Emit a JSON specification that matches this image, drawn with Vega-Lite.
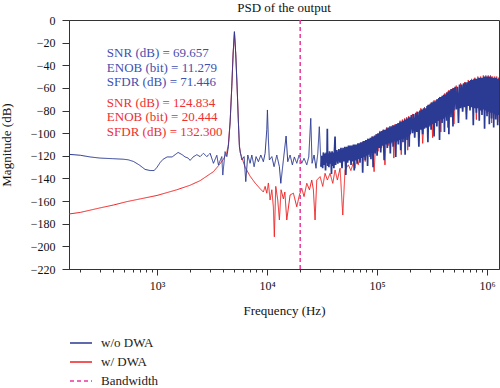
{
"$schema": "https://vega.github.io/schema/vega-lite/v6.json",
"width": 430, "height": 249,
"autosize": {"type": "none"},
"padding": {"left": 69, "top": 20, "right": 1, "bottom": 119},
"title": {"text": "PSD of the output", "font": "Liberation Serif", "fontSize": 13, "fontWeight": "normal", "color": "#111", "offset": 2, "dy": 13, "baseline": "alphabetic", "anchor": "middle"},
"config": {"view": {"stroke": "#333", "strokeWidth": 1}, "font": "Liberation Serif"},
"resolve": {"scale": {"x": "shared"}, "axis": {"x": "independent"}},
"datasets": {
"blue": [
{"f":158,"v":-118.7,"s":"b"},{"f":200,"v":-119.5,"s":"b"},{"f":246,"v":-121,"s":"b"},{"f":303,"v":-122,"s":"b"},{"f":390,"v":-122.5,"s":"b"},{"f":491,"v":-123,"s":"b"},{"f":545,"v":-123.5,"s":"b"},{"f":610,"v":-125,"s":"b"},{"f":686,"v":-128,"s":"b"},{"f":777,"v":-132,"s":"b"},{"f":863,"v":-133,"s":"b"},{"f":940,"v":-133,"s":"b"},{"f":1000,"v":-130,"s":"b"},{"f":1064,"v":-126,"s":"b"},{"f":1135,"v":-123,"s":"b"},{"f":1233,"v":-121,"s":"b"},{"f":1368,"v":-121,"s":"b"},{"f":1458,"v":-119,"s":"b"},{"f":1552,"v":-117,"s":"b"},{"f":1688,"v":-119,"s":"b"},{"f":1798,"v":-121,"s":"b"},{"f":1915,"v":-122,"s":"b"},{"f":1995,"v":-124,"s":"b"},{"f":2125,"v":-121,"s":"b"},{"f":2296,"v":-119,"s":"b"},{"f":2460,"v":-120.7,"s":"b"},{"f":2637,"v":-117.8,"s":"b"},{"f":2831,"v":-120.7,"s":"b"},{"f":3034,"v":-117.8,"s":"b"},{"f":3252,"v":-126.6,"s":"b"},{"f":3490,"v":-119.5,"s":"b"},{"f":3609,"v":-128,"s":"b"},{"f":3873,"v":-120.7,"s":"b"},{"f":3954,"v":-137,"s":"b"},{"f":4150,"v":-116.3,"s":"b"},{"f":4303,"v":-120.7,"s":"b"},{"f":4446,"v":-112,"s":"b"},{"f":4613,"v":-90,"s":"b"},{"f":4775,"v":-59,"s":"b"},{"f":4909,"v":-30,"s":"b"},{"f":5047,"v":-10.3,"s":"b"},{"f":5188,"v":-30,"s":"b"},{"f":5337,"v":-59,"s":"b"},{"f":5483,"v":-90,"s":"b"},{"f":5598,"v":-112,"s":"b"},{"f":5888,"v":-123.7,"s":"b"},{"f":6180,"v":-120.7,"s":"b"},{"f":6400,"v":-142.8,"s":"b"},{"f":6675,"v":-119.3,"s":"b"},{"f":7005,"v":-126.6,"s":"b"},{"f":7261,"v":-119.3,"s":"b"},{"f":7620,"v":-129.6,"s":"b"},{"f":7943,"v":-120.7,"s":"b"},{"f":8337,"v":-125.2,"s":"b"},{"f":8770,"v":-119.3,"s":"b"},{"f":9247,"v":-125.2,"s":"b"},{"f":9594,"v":-117.8,"s":"b"},{"f":9935,"v":-97,"s":"b"},{"f":10070,"v":-79.5,"s":"b"},{"f":10280,"v":-106,"s":"b"},{"f":10490,"v":-123.7,"s":"b"},{"f":11040,"v":-120.7,"s":"b"},{"f":11580,"v":-129.6,"s":"b"},{"f":12250,"v":-119.3,"s":"b"},{"f":12940,"v":-129.6,"s":"b"},{"f":13330,"v":-144.3,"s":"b"},{"f":14070,"v":-123.7,"s":"b"},{"f":14890,"v":-102.5,"s":"b"},{"f":15420,"v":-125.2,"s":"b"},{"f":16190,"v":-119.3,"s":"b"},{"f":16980,"v":-128,"s":"b"},{"f":17700,"v":-121,"s":"b"},{"f":18620,"v":-126.6,"s":"b"},{"f":19540,"v":-119.3,"s":"b"},{"f":20660,"v":-126.6,"s":"b"},{"f":21680,"v":-122.2,"s":"b"},{"f":22960,"v":-128,"s":"b"},{"f":23930,"v":-121,"s":"b"},{"f":24950,"v":-86.9,"s":"b"},{"f":25650,"v":-126.6,"s":"b"},{"f":26740,"v":-119.3,"s":"b"},{"f":27870,"v":-131,"s":"b"},{"f":28900,"v":-118,"s":"b"},{"f":29850,"v":-94.3,"s":"b"},{"f":30970,"v":-129.6,"s":"b"},
{"f":31500,"v":-120,"s":"b"},{"f":32000,"v":-131,"s":"b"},{"f":32500,"v":-117,"s":"b"},{"f":33000,"v":-128,"s":"b"},{"f":33500,"v":-118,"s":"b"},{"f":34000,"v":-133,"s":"b"},{"f":34500,"v":-117,"s":"b"},{"f":35000,"v":-126,"s":"b"},{"f":35300,"v":-96,"s":"b"},{"f":35600,"v":-129,"s":"b"},{"f":36000,"v":-118,"s":"b"},{"f":36500,"v":-130,"s":"b"},{"f":37000,"v":-116,"s":"b"},{"f":37500,"v":-127,"s":"b"},{"f":38000,"v":-117,"s":"b"},{"f":38500,"v":-136,"s":"b"},{"f":39000,"v":-116,"s":"b"},{"f":39500,"v":-129,"s":"b"},{"f":40000,"v":-117,"s":"b"},{"f":40500,"v":-131,"s":"b"},{"f":41000,"v":-115,"s":"b"},{"f":41500,"v":-103,"s":"b"},{"f":42000,"v":-128,"s":"b"},
{"f":43000,"v":-115,"s":"b"},{"f":44000,"v":-127,"s":"b"},{"f":45000,"v":-114,"s":"b"},{"f":46000,"v":-126,"s":"b"},{"f":47000,"v":-113,"s":"b"},{"f":48000,"v":-131,"s":"b"},{"f":49000,"v":-113,"s":"b"},{"f":50000,"v":-125,"s":"b"},{"f":51000,"v":-112,"s":"b"},{"f":52000,"v":-137,"s":"b"},{"f":53000,"v":-112,"s":"b"},{"f":54000,"v":-126,"s":"b"},{"f":55000,"v":-111,"s":"b"},{"f":56000,"v":-124,"s":"b"},{"f":57000,"v":-111,"s":"b"},{"f":58000,"v":-128,"s":"b"},{"f":59000,"v":-111,"s":"b"},{"f":60000,"v":-125,"s":"b"},{"f":61000,"v":-110,"s":"b"},{"f":62000,"v":-133,"s":"b"},{"f":63000,"v":-110,"s":"b"},{"f":64000,"v":-124,"s":"b"},{"f":65000,"v":-110,"s":"b"},{"f":66000,"v":-127,"s":"b"},{"f":67000,"v":-109,"s":"b"},{"f":68000,"v":-123,"s":"b"},{"f":69000,"v":-109,"s":"b"},{"f":70000,"v":-126,"s":"b"},{"f":71000,"v":-108,"s":"b"},{"f":72000,"v":-122,"s":"b"},{"f":73000,"v":-108,"s":"b"},{"f":74000,"v":-135,"s":"b"},{"f":75000,"v":-107,"s":"b"},{"f":76000,"v":-121,"s":"b"},{"f":77000,"v":-107,"s":"b"},{"f":78000,"v":-124,"s":"b"},{"f":79000,"v":-106,"s":"b"},{"f":80000,"v":-120,"s":"b"},{"f":81000,"v":-106,"s":"b"},{"f":82000,"v":-129,"s":"b"},{"f":83000,"v":-105,"s":"b"},{"f":84000,"v":-119,"s":"b"},{"f":85000,"v":-105,"s":"b"},{"f":86000,"v":-118,"s":"b"},{"f":87000,"v":-104,"s":"b"},{"f":88000,"v":-123,"s":"b"},{"f":89000,"v":-104,"s":"b"},{"f":90000,"v":-117,"s":"b"},{"f":91000,"v":-103,"s":"b"},{"f":92000,"v":-130,"s":"b"},{"f":93000,"v":-103,"s":"b"},{"f":94000,"v":-116,"s":"b"},{"f":95000,"v":-102,"s":"b"},{"f":96000,"v":-118,"s":"b"},{"f":97000,"v":-102,"s":"b"},{"f":98000,"v":-115,"s":"b"},{"f":99000,"v":-101,"s":"b"},{"f":100000,"v":-120,"s":"b"},
{"f":102000,"v":-100,"s":"b"},{"f":104000,"v":-113,"s":"b"},{"f":106000,"v":-99,"s":"b"},{"f":108000,"v":-117,"s":"b"},{"f":110000,"v":-98,"s":"b"},{"f":112000,"v":-111,"s":"b"},{"f":114000,"v":-97,"s":"b"},{"f":116000,"v":-124,"s":"b"},{"f":118000,"v":-97,"s":"b"},{"f":120000,"v":-110,"s":"b"},{"f":122000,"v":-96,"s":"b"},{"f":124000,"v":-113,"s":"b"},{"f":126000,"v":-95,"s":"b"},{"f":128000,"v":-109,"s":"b"},{"f":130000,"v":-95,"s":"b"},{"f":132000,"v":-118,"s":"b"},{"f":134000,"v":-94,"s":"b"},{"f":136000,"v":-108,"s":"b"},{"f":138000,"v":-94,"s":"b"},{"f":140000,"v":-112,"s":"b"},{"f":142000,"v":-93,"s":"b"},{"f":144000,"v":-107,"s":"b"},{"f":146000,"v":-93,"s":"b"},{"f":148000,"v":-121,"s":"b"},{"f":150000,"v":-92,"s":"b"},{"f":152000,"v":-107,"s":"b"},{"f":154000,"v":-92,"s":"b"},{"f":156000,"v":-110,"s":"b"},{"f":158000,"v":-91,"s":"b"},{"f":160000,"v":-106,"s":"b"},{"f":162000,"v":-90,"s":"b"},{"f":164000,"v":-115,"s":"b"},{"f":166000,"v":-90,"s":"b"},{"f":168000,"v":-105,"s":"b"},{"f":170000,"v":-89,"s":"b"},{"f":172000,"v":-108,"s":"b"},{"f":174000,"v":-89,"s":"b"},{"f":176000,"v":-104,"s":"b"},{"f":178000,"v":-88,"s":"b"},{"f":180000,"v":-119,"s":"b"},{"f":182000,"v":-88,"s":"b"},{"f":184000,"v":-103,"s":"b"},{"f":186000,"v":-87,"s":"b"},{"f":188000,"v":-106,"s":"b"},{"f":190000,"v":-87,"s":"b"},{"f":192000,"v":-102,"s":"b"},{"f":194000,"v":-86,"s":"b"},{"f":196000,"v":-112,"s":"b"},{"f":198000,"v":-86,"s":"b"},{"f":200000,"v":-101,"s":"b"},
{"f":205000,"v":-84,"s":"b"},{"f":210000,"v":-100,"s":"b"},{"f":215000,"v":-83,"s":"b"},{"f":220000,"v":-104,"s":"b"},{"f":225000,"v":-82,"s":"b"},{"f":230000,"v":-99,"s":"b"},{"f":235000,"v":-81,"s":"b"},{"f":240000,"v":-112,"s":"b"},{"f":245000,"v":-80,"s":"b"},{"f":250000,"v":-97,"s":"b"},{"f":255000,"v":-79,"s":"b"},{"f":260000,"v":-101,"s":"b"},{"f":265000,"v":-78,"s":"b"},{"f":270000,"v":-96,"s":"b"},{"f":275000,"v":-78,"s":"b"},{"f":280000,"v":-95,"s":"b"},{"f":285000,"v":-76,"s":"b"},{"f":290000,"v":-108,"s":"b"},{"f":295000,"v":-75,"s":"b"},{"f":300000,"v":-93,"s":"b"},{"f":305000,"v":-74,"s":"b"},{"f":310000,"v":-97,"s":"b"},{"f":315000,"v":-73,"s":"b"},{"f":320000,"v":-92,"s":"b"},{"f":325000,"v":-72,"s":"b"},{"f":330000,"v":-103,"s":"b"},{"f":335000,"v":-72,"s":"b"},{"f":340000,"v":-91,"s":"b"},{"f":345000,"v":-71,"s":"b"},{"f":350000,"v":-94,"s":"b"},{"f":355000,"v":-70,"s":"b"},{"f":360000,"v":-89,"s":"b"},{"f":365000,"v":-69,"s":"b"},{"f":370000,"v":-106,"s":"b"},{"f":375000,"v":-68,"s":"b"},{"f":380000,"v":-88,"s":"b"},{"f":385000,"v":-68,"s":"b"},{"f":390000,"v":-91,"s":"b"},{"f":395000,"v":-67,"s":"b"},{"f":400000,"v":-87,"s":"b"},{"f":405000,"v":-66,"s":"b"},{"f":410000,"v":-99,"s":"b"},{"f":415000,"v":-66,"s":"b"},{"f":420000,"v":-85,"s":"b"},{"f":425000,"v":-65,"s":"b"},{"f":430000,"v":-89,"s":"b"},{"f":435000,"v":-64,"s":"b"},{"f":440000,"v":-84,"s":"b"},{"f":445000,"v":-63,"s":"b"},{"f":450000,"v":-101,"s":"b"},{"f":455000,"v":-63,"s":"b"},{"f":460000,"v":-82,"s":"b"},{"f":465000,"v":-62,"s":"b"},{"f":470000,"v":-86,"s":"b"},{"f":475000,"v":-61,"s":"b"},{"f":480000,"v":-81,"s":"b"},{"f":485000,"v":-61,"s":"b"},{"f":490000,"v":-94,"s":"b"},{"f":495000,"v":-60,"s":"b"},{"f":500000,"v":-80,"s":"b"},
{"f":512500,"v":-59,"s":"b"},{"f":525000,"v":-79,"s":"b"},{"f":537500,"v":-59,"s":"b"},{"f":550000,"v":-91,"s":"b"},{"f":562500,"v":-57,"s":"b"},{"f":575000,"v":-78,"s":"b"},{"f":587500,"v":-57,"s":"b"},{"f":600000,"v":-81,"s":"b"},{"f":612500,"v":-56,"s":"b"},{"f":625000,"v":-77,"s":"b"},{"f":637500,"v":-55,"s":"b"},{"f":650000,"v":-88,"s":"b"},{"f":662500,"v":-55,"s":"b"},{"f":675000,"v":-76,"s":"b"},{"f":687500,"v":-54,"s":"b"},{"f":700000,"v":-80,"s":"b"},{"f":712500,"v":-53,"s":"b"},{"f":725000,"v":-77,"s":"b"},{"f":737500,"v":-53,"s":"b"},{"f":750000,"v":-93,"s":"b"},{"f":762500,"v":-52,"s":"b"},{"f":775000,"v":-78,"s":"b"},{"f":787500,"v":-52,"s":"b"},{"f":800000,"v":-82,"s":"b"},{"f":812500,"v":-52,"s":"b"},{"f":825000,"v":-78,"s":"b"},{"f":837500,"v":-51,"s":"b"},{"f":850000,"v":-89,"s":"b"},{"f":862500,"v":-51,"s":"b"},{"f":875000,"v":-80,"s":"b"},{"f":887500,"v":-51,"s":"b"},{"f":900000,"v":-84,"s":"b"},{"f":912500,"v":-51,"s":"b"},{"f":925000,"v":-79,"s":"b"},{"f":937500,"v":-50,"s":"b"},{"f":950000,"v":-96,"s":"b"},{"f":962500,"v":-50,"s":"b"},{"f":975000,"v":-80,"s":"b"},{"f":987500,"v":-50,"s":"b"},{"f":1000000,"v":-85,"s":"b"},{"f":1012500,"v":-50,"s":"b"},{"f":1025000,"v":-81,"s":"b"},{"f":1037500,"v":-50,"s":"b"},{"f":1050000,"v":-92,"s":"b"},{"f":1062500,"v":-50,"s":"b"},{"f":1075000,"v":-82,"s":"b"},{"f":1087500,"v":-50,"s":"b"},{"f":1100000,"v":-87,"s":"b"},{"f":1112500,"v":-51,"s":"b"},{"f":1125000,"v":-82,"s":"b"},{"f":1137500,"v":-51,"s":"b"},{"f":1150000,"v":-95,"s":"b"},{"f":1162500,"v":-51,"s":"b"},{"f":1175000,"v":-83,"s":"b"},{"f":1187500,"v":-51,"s":"b"},{"f":1200000,"v":-88,"s":"b"},{"f":1212500,"v":-51,"s":"b"},{"f":1225000,"v":-84,"s":"b"},{"f":1237500,"v":-52,"s":"b"},{"f":1250000,"v":-93,"s":"b"},{"f":1262500,"v":-52,"s":"b"},{"f":1275000,"v":-84,"s":"b"},{"f":1285000,"v":-53,"s":"b"}
],
"red": [
{"f":158,"v":-171.4,"s":"r"},{"f":200,"v":-170,"s":"r"},{"f":303,"v":-166,"s":"r"},{"f":400,"v":-163.5,"s":"r"},{"f":529,"v":-160.5,"s":"r"},{"f":750,"v":-157.5,"s":"r"},{"f":1000,"v":-155,"s":"r"},{"f":1510,"v":-150,"s":"r"},{"f":1995,"v":-146,"s":"r"},{"f":2455,"v":-142,"s":"r"},{"f":3252,"v":-134,"s":"r"},{"f":3741,"v":-127,"s":"r"},{"f":4009,"v":-123,"s":"r"},{"f":4303,"v":-117,"s":"r"},{"f":4446,"v":-110,"s":"r"},{"f":4613,"v":-90,"s":"r"},{"f":4775,"v":-59,"s":"r"},{"f":4909,"v":-30,"s":"r"},{"f":5047,"v":-10.5,"s":"r"},{"f":5188,"v":-30,"s":"r"},{"f":5337,"v":-59,"s":"r"},{"f":5483,"v":-90,"s":"r"},{"f":5598,"v":-110,"s":"r"},{"f":5689,"v":-117,"s":"r"},{"f":6310,"v":-130,"s":"r"},{"f":7005,"v":-138,"s":"r"},{"f":7780,"v":-144,"s":"r"},{"f":8630,"v":-149,"s":"r"},{"f":9247,"v":-152,"s":"r"},{"f":9594,"v":-147,"s":"r"},{"f":9935,"v":-153,"s":"r"},{"f":10280,"v":-144,"s":"r"},{"f":10650,"v":-159,"s":"r"},{"f":11040,"v":-150,"s":"r"},{"f":11400,"v":-165,"s":"r"},{"f":11640,"v":-191.5,"s":"r"},{"f":11990,"v":-147,"s":"r"},{"f":12500,"v":-159,"s":"r"},{"f":12940,"v":-176.7,"s":"r"},{"f":13400,"v":-150,"s":"r"},{"f":14070,"v":-158,"s":"r"},{"f":14500,"v":-152,"s":"r"},{"f":15100,"v":-176.7,"s":"r"},{"f":16190,"v":-154.6,"s":"r"},{"f":17340,"v":-153,"s":"r"},{"f":18620,"v":-165,"s":"r"},{"f":19680,"v":-154.6,"s":"r"},{"f":20660,"v":-148.7,"s":"r"},{"f":21680,"v":-156,"s":"r"},{"f":22960,"v":-144.3,"s":"r"},{"f":24270,"v":-150,"s":"r"},{"f":25470,"v":-141.4,"s":"r"},{"f":26360,"v":-150,"s":"r"},{"f":27310,"v":-176.7,"s":"r"},{"f":28300,"v":-141.4,"s":"r"},{"f":30340,"v":-138.4,"s":"r"},{"f":32070,"v":-147,"s":"r"},{"f":33650,"v":-135.5,"s":"r"},{"f":35320,"v":-141.4,"s":"r"},{"f":37380,"v":-135.5,"s":"r"},{"f":39550,"v":-144.3,"s":"r"},{"f":41500,"v":-132.5,"s":"r"},{"f":43550,"v":-141.4,"s":"r"},{"f":46100,"v":-131,"s":"r"},{"f":48770,"v":-172.3,"s":"r"},{"f":51160,"v":-132.5,"s":"r"},{"f":54830,"v":-128,"s":"r"},{"f":57800,"v":-133,"s":"r"},{"f":60930,"v":-126,"s":"r"},{"f":63000,"v":-131,"s":"r"},{"f":65370,"v":-122,"s":"r"},{"f":67500,"v":-128,"s":"r"},{"f":70000,"v":-119,"s":"r"},
{"f":74000,"v":-108,"s":"r"},{"f":78000,"v":-125,"s":"r"},{"f":82000,"v":-105,"s":"r"},{"f":86000,"v":-121,"s":"r"},{"f":90000,"v":-103,"s":"r"},{"f":94000,"v":-134,"s":"r"},{"f":98000,"v":-101,"s":"r"},{"f":102000,"v":-116,"s":"r"},{"f":106000,"v":-98,"s":"r"},{"f":110000,"v":-113,"s":"r"},{"f":114000,"v":-97,"s":"r"},{"f":118000,"v":-128,"s":"r"},{"f":122000,"v":-95,"s":"r"},{"f":126000,"v":-111,"s":"r"},{"f":130000,"v":-94,"s":"r"},{"f":134000,"v":-109,"s":"r"},{"f":138000,"v":-93,"s":"r"},{"f":142000,"v":-122,"s":"r"},{"f":146000,"v":-92,"s":"r"},{"f":150000,"v":-108,"s":"r"},{"f":154000,"v":-91,"s":"r"},{"f":158000,"v":-106,"s":"r"},{"f":162000,"v":-89,"s":"r"},{"f":166000,"v":-119,"s":"r"},{"f":170000,"v":-88,"s":"r"},{"f":174000,"v":-105,"s":"r"},{"f":178000,"v":-87,"s":"r"},{"f":182000,"v":-103,"s":"r"},{"f":186000,"v":-86,"s":"r"},{"f":190000,"v":-115,"s":"r"},{"f":194000,"v":-85,"s":"r"},{"f":198000,"v":-102,"s":"r"},{"f":210000,"v":-83,"s":"r"},{"f":220000,"v":-100,"s":"r"},{"f":230000,"v":-81,"s":"r"},{"f":240000,"v":-98,"s":"r"},{"f":250000,"v":-78,"s":"r"},{"f":260000,"v":-109,"s":"r"},{"f":270000,"v":-77,"s":"r"},{"f":280000,"v":-95,"s":"r"},{"f":290000,"v":-75,"s":"r"},{"f":300000,"v":-94,"s":"r"},{"f":310000,"v":-73,"s":"r"},{"f":320000,"v":-104,"s":"r"},{"f":330000,"v":-71,"s":"r"},{"f":340000,"v":-91,"s":"r"},{"f":350000,"v":-70,"s":"r"},{"f":360000,"v":-89,"s":"r"},{"f":370000,"v":-68,"s":"r"},{"f":380000,"v":-99,"s":"r"},{"f":390000,"v":-67,"s":"r"},{"f":400000,"v":-87,"s":"r"},{"f":410000,"v":-65,"s":"r"},{"f":420000,"v":-86,"s":"r"},{"f":430000,"v":-64,"s":"r"},{"f":440000,"v":-95,"s":"r"},{"f":450000,"v":-62,"s":"r"},{"f":460000,"v":-83,"s":"r"},{"f":470000,"v":-61,"s":"r"},{"f":480000,"v":-82,"s":"r"},{"f":490000,"v":-60,"s":"r"},{"f":500000,"v":-92,"s":"r"},{"f":525000,"v":-58,"s":"r"},{"f":550000,"v":-79,"s":"r"},{"f":575000,"v":-56,"s":"r"},{"f":600000,"v":-80,"s":"r"},{"f":625000,"v":-55,"s":"r"},{"f":650000,"v":-84,"s":"r"},{"f":675000,"v":-53,"s":"r"},{"f":700000,"v":-78,"s":"r"},{"f":725000,"v":-52,"s":"r"},{"f":750000,"v":-79,"s":"r"},{"f":775000,"v":-51,"s":"r"},{"f":800000,"v":-88,"s":"r"},{"f":825000,"v":-50,"s":"r"},{"f":850000,"v":-80,"s":"r"},{"f":875000,"v":-50,"s":"r"},{"f":900000,"v":-81,"s":"r"},{"f":925000,"v":-49,"s":"r"},{"f":950000,"v":-87,"s":"r"},{"f":975000,"v":-49,"s":"r"},{"f":1000000,"v":-82,"s":"r"},{"f":1025000,"v":-49,"s":"r"},{"f":1050000,"v":-83,"s":"r"},{"f":1075000,"v":-49,"s":"r"},{"f":1100000,"v":-91,"s":"r"},{"f":1125000,"v":-50,"s":"r"},{"f":1150000,"v":-84,"s":"r"},{"f":1175000,"v":-50,"s":"r"},{"f":1200000,"v":-85,"s":"r"},{"f":1225000,"v":-50,"s":"r"},{"f":1250000,"v":-90,"s":"r"},{"f":1275000,"v":-51,"s":"r"},{"f":1285000,"v":-52,"s":"r"}
],
"bw": [{"f":20000,"v":0,"v2":-220,"s":"d"}],
"ann": [
{"f":349,"v":-28.9,"t":"SNR (dB) = 69.657","g":"b"},
{"f":349,"v":-42.1,"t":"ENOB (bit) = 11.279","g":"b"},
{"f":349,"v":-54.5,"t":"SFDR (dB) = 71.446","g":"b"},
{"f":349,"v":-73.1,"t":"SNR (dB) = 124.834","g":"r"},
{"f":349,"v":-86.0,"t":"ENOB (bit) = 20.444","g":"r"},
{"f":349,"v":-98.7,"t":"SFDR (dB) = 132.300","g":"r"}
]
},
"encoding": {
"y": {"field": "v", "type": "quantitative", "title": "Magnitude (dB)",
 "scale": {"domain": [-220, 0], "nice": false},
 "axis": {"values": [-220,-200,-180,-160,-140,-120,-100,-80,-60,-40,-20,0], "tickSize": 7, "tickColor": "#333", "domainColor": "#333", "labelColor": "#111", "labelFont": "Liberation Serif", "labelFontSize": 12, "labelPadding": 7, "grid": false,
  "titleFont": "Liberation Serif", "titleFontSize": 13, "titleFontWeight": "normal", "titleColor": "#111", "titlePadding": 17}}
},
"layer": [
{"data": {"name": "red"}, "mark": {"type": "line", "strokeWidth": 1, "clip": true},
 "encoding": {
  "x": {"field": "f", "type": "quantitative", "title": null,
   "scale": {"type": "log", "domain": [158, 1285000], "nice": false},
   "axis": {"orient": "bottom", "values": [200,300,400,500,600,700,800,900,2000,3000,4000,5000,6000,7000,8000,9000,20000,30000,40000,50000,60000,70000,80000,90000,200000,300000,400000,500000,600000,700000,800000,900000],
    "labels": false, "tickSize": 3, "tickColor": "#333", "domainColor": "#333", "grid": false}},
  "color": {"field": "s", "type": "nominal", "scale": {"domain": ["b","r","d"], "range": ["#2b3a93","#f02020","#e8389c"]},
   "legend": {"orient": "none", "legendX": 0, "legendY": 311, "direction": "vertical", "title": null, "symbolType": "stroke", "symbolSize": 484, "symbolStrokeWidth": 1.5, "labelFont": "Liberation Serif", "labelFontSize": 13, "labelColor": "#222", "labelOffset": 8, "rowPadding": 0, "padding": 0, "labelExpr": "datum.label == 'b' ? 'w/o DWA' : datum.label == 'r' ? 'w/ DWA' : 'Bandwidth'"}},
  "strokeDash": {"field": "s", "type": "nominal", "scale": {"domain": ["b","r","d"], "range": [[1,0],[1,0],[4,3]]},
   "legend": {"orient": "none", "legendX": 0, "legendY": 311, "direction": "vertical", "title": null, "symbolType": "stroke", "symbolSize": 484, "symbolStrokeWidth": 1.5, "labelFont": "Liberation Serif", "labelFontSize": 13, "labelColor": "#222", "labelOffset": 8, "rowPadding": 0, "padding": 0, "labelExpr": "datum.label == 'b' ? 'w/o DWA' : datum.label == 'r' ? 'w/ DWA' : 'Bandwidth'"}}
 }},
{"data": {"name": "blue"}, "transform": [{"filter": "datum.f <= 31500"}], "mark": {"type": "line", "strokeWidth": 1, "clip": true},
 "encoding": {
  "x": {"field": "f", "type": "quantitative", "scale": {"type": "log", "domain": [158, 1285000], "nice": false}, "axis": null},
  "color": {"field": "s", "type": "nominal"},
  "strokeDash": {"field": "s", "type": "nominal"}
 }},
{"data": {"name": "blue"}, "transform": [{"filter": "datum.f >= 30970"}], "mark": {"type": "line", "strokeWidth": 1.7, "clip": true},
 "encoding": {
  "x": {"field": "f", "type": "quantitative", "scale": {"type": "log", "domain": [158, 1285000], "nice": false}, "axis": null},
  "color": {"field": "s", "type": "nominal"},
  "strokeDash": {"field": "s", "type": "nominal"}
 }},
{"data": {"name": "bw"}, "mark": {"type": "rule", "strokeWidth": 1.5},
 "encoding": {
  "x": {"field": "f", "type": "quantitative", "scale": {"type": "log", "domain": [158, 1285000], "nice": false}, "axis": null},
  "y2": {"field": "v2"},
  "color": {"field": "s", "type": "nominal"},
  "strokeDash": {"field": "s", "type": "nominal"}
 }},
{"data": {"name": "ann"}, "mark": {"type": "text", "align": "left", "baseline": "middle", "font": "Liberation Serif", "fontSize": 13},
 "encoding": {
  "x": {"field": "f", "type": "quantitative", "title": "Frequency (Hz)",
   "scale": {"type": "log", "domain": [158, 1285000], "nice": false},
   "axis": {"orient": "bottom", "values": [1000,10000,100000,1000000],
    "labelExpr": "datum.value == 1000 ? '10³' : datum.value == 10000 ? '10⁴' : datum.value == 100000 ? '10⁵' : '10⁶'",
    "tickSize": 6, "domain": false, "labelOverlap": false, "labelFlush": false, "labelBound": false, "grid": false,
    "tickColor": "#333", "labelColor": "#111", "labelFont": "Liberation Serif", "labelFontSize": 12, "labelPadding": 5,
    "titleFont": "Liberation Serif", "titleFontSize": 13, "titleFontWeight": "normal", "titleColor": "#111", "titlePadding": 13}},
  "text": {"field": "t"},
  "color": {"condition": {"test": "datum.g == 'b'", "value": "#3f4fb0"}, "value": "#ee3030"}
 }}
]
}
